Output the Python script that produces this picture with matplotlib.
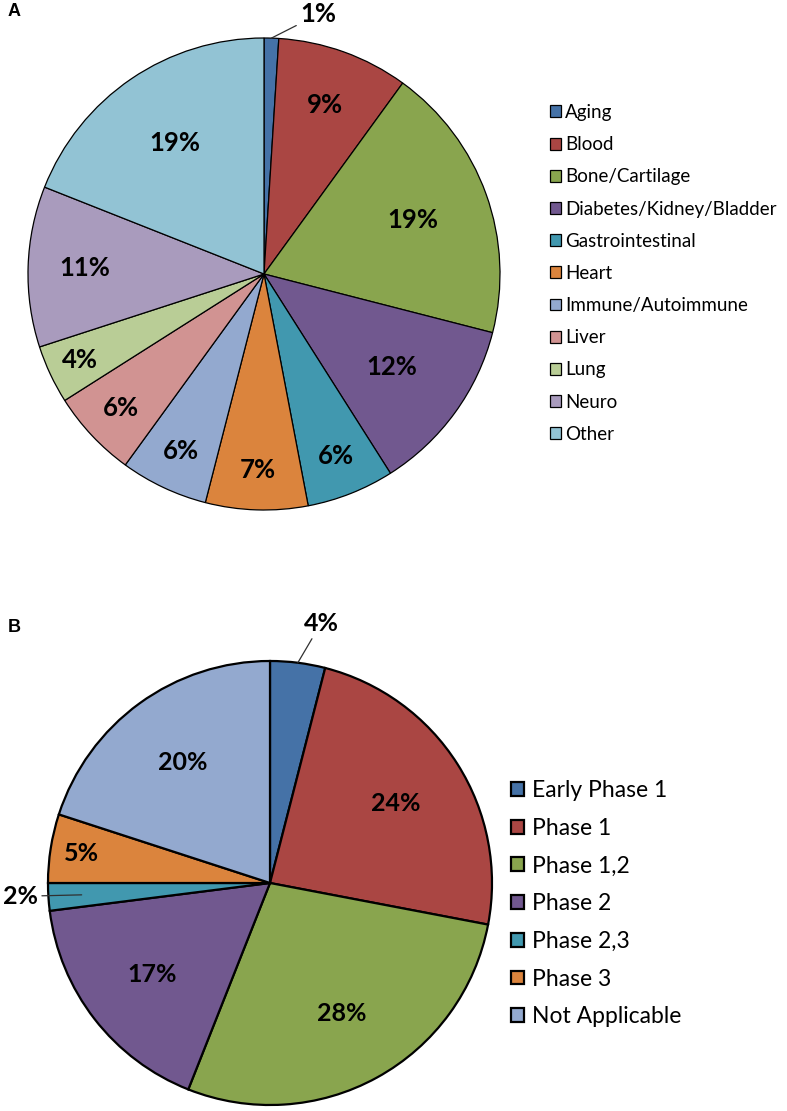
import numpy as np
import matplotlib
matplotlib.use("Agg")
from matplotlib import pyplot as plt

plt.rcParams['font.family'] = ['Lato', 'DejaVu Sans']

# panel A data
areas = ["Aging", "Blood", "Bone/Cartilage", "Diabetes/Kidney/Bladder",
         "Gastrointestinal", "Heart", "Immune/Autoimmune", "Liver", "Lung",
         "Neuro", "Other"]
area_pct = [1, 9, 19, 12, 6, 7, 6, 6, 4, 11, 19]

# panel B data
phases = ["Early Phase 1", "Phase 1", "Phase 1,2", "Phase 2", "Phase 2,3",
          "Phase 3", "Not Applicable"]
phase_pct = [4, 24, 28, 17, 2, 5, 20]

colors_a = ["#4572A7", "#AA4643", "#89A54E", "#71588F", "#4198AF", "#DB843D",
            "#93A9CF", "#D19392", "#B9CD96", "#A99BBD", "#92C3D4"]
colors_b = colors_a[:6] + ["#93A9CF"]

W, H = 787, 1111
fig = plt.figure(figsize=(W / 100, H / 100), dpi=100)


def pie_axes(cx, cy, r):
  ax = fig.add_axes([(cx - r) / W, 1 - (cy + r) / H, 2 * r / W, 2 * r / H])
  return ax


def label_radius(p):
  # excel "best fit": small slices push the label outward
  if p <= 5:
    return 0.86
  if p <= 7:
    return 0.83
  if p <= 11:
    return 0.76
  return 0.67


def draw_pie(ax, values, colors, lw, fsize, outside):
  wedges, texts = ax.pie(values, colors=colors, startangle=90, counterclock=False,
                         wedgeprops=dict(edgecolor="black", linewidth=lw))
  for i, w in enumerate(wedges):
    mid = np.deg2rad((w.theta1 + w.theta2) / 2)
    txt = "%d%%" % values[i]
    if i in outside:
      tx, ty, lr = outside[i]
      ax.annotate(txt, xy=(np.cos(mid) * lr, np.sin(mid) * lr), xytext=(tx, ty),
                  ha="center", va="center", fontsize=fsize, fontweight="bold",
                  arrowprops=dict(arrowstyle="-", color="#303030", lw=0.9,
                                  shrinkA=1, shrinkB=0))
    else:
      d = label_radius(values[i])
      ax.text(np.cos(mid) * d, np.sin(mid) * d, txt,
              ha="center", va="center", fontsize=fsize, fontweight="bold")
  ax.set_xlim(-1, 1)
  ax.set_ylim(-1, 1)
  return wedges


# A
ax_a = pie_axes(264, 274, 236)
wa = draw_pie(ax_a, area_pct, colors_a, 0.9, 18.5, {0: (0.23, 1.10, 1.0)})
fig.legend(wa, areas, loc="upper left", bbox_to_anchor=(550 / W, 1 - 104 / H),
           frameon=False, fontsize=13.5, handlelength=0.6, handleheight=0.6,
           handletextpad=0.2, labelspacing=0.81, borderpad=0, borderaxespad=0)

# B
ax_b = pie_axes(270, 883, 222)
wb = draw_pie(ax_b, phase_pct, colors_b, 1.6, 18,
              {0: (0.23, 1.17, 1.0), 4: (-1.125, -0.06, 0.85)})
fig.legend(wb, phases, loc="upper left", bbox_to_anchor=(511 / W, 1 - 780 / H),
           frameon=False, fontsize=16.5, handlelength=0.55, handleheight=0.55,
           handletextpad=0.35, labelspacing=0.73, borderpad=0, borderaxespad=0)

fig.text(8 / W, 1 - 12 / H, "A", fontsize=13, fontweight="bold",
         family="Liberation Sans", va="center", ha="left")
fig.text(8 / W, 1 - 627 / H, "B", fontsize=13, fontweight="bold",
         family="Liberation Sans", va="center", ha="left")

fig.savefig("out.png", dpi=100)
